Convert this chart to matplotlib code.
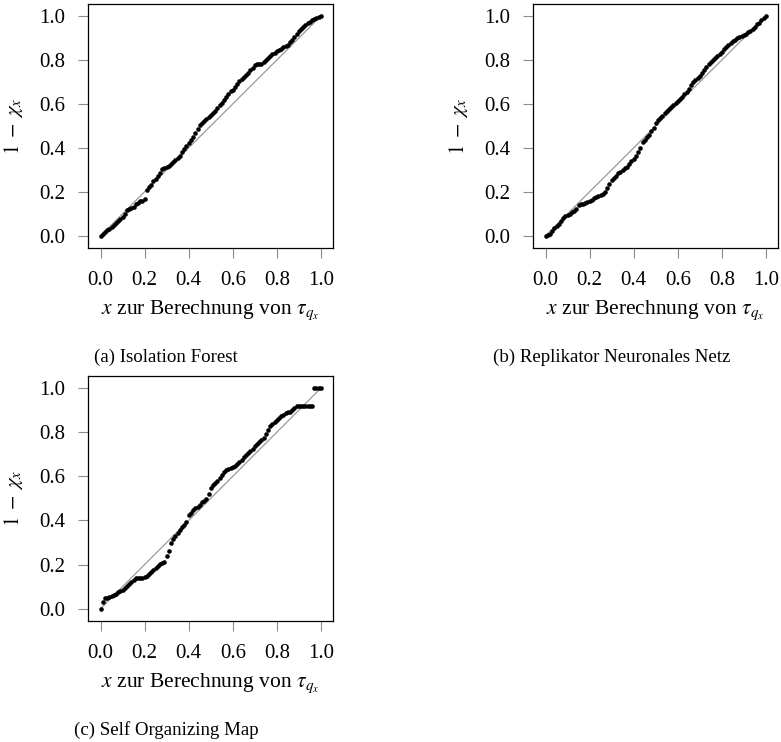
import numpy as np
import matplotlib
matplotlib.use("Agg")
import matplotlib.pyplot as plt

plt.rcParams["font.family"] = ["Liberation Serif", "DejaVu Serif"]
plt.rcParams["mathtext.fontset"] = "stix"

# quantile levels x used to compute tau_{q_x}
x_levels = np.round(np.arange(0, 101) * 0.01, 2)

# 1 - chi_x for each detector
y_isolation_forest = [
    0.000, 0.010, 0.018, 0.024, 0.032, 0.040, 0.050, 0.058, 0.066, 0.074,
    0.085, 0.100, 0.116, 0.120, 0.124, 0.130, 0.143, 0.150, 0.156, 0.160,
    0.167, 0.209, 0.220, 0.233, 0.247, 0.258, 0.272, 0.285, 0.305, 0.308,
    0.311, 0.316, 0.325, 0.336, 0.346, 0.356, 0.364, 0.380, 0.394, 0.410,
    0.420, 0.436, 0.450, 0.467, 0.487, 0.505, 0.512, 0.520, 0.530, 0.540,
    0.550, 0.560, 0.570, 0.583, 0.595, 0.606, 0.618, 0.630, 0.645, 0.657,
    0.665, 0.676, 0.690, 0.705, 0.713, 0.722, 0.733, 0.742, 0.753, 0.765,
    0.775, 0.781, 0.782, 0.780, 0.790, 0.800, 0.808, 0.816, 0.826, 0.833,
    0.840, 0.846, 0.852, 0.858, 0.864, 0.870, 0.880, 0.892, 0.905, 0.918,
    0.930, 0.940, 0.950, 0.960, 0.968, 0.974, 0.980, 0.986, 0.992, 0.997,
    1.000,
]

y_replikator = [
    0.000, 0.004, 0.010, 0.022, 0.035, 0.045, 0.055, 0.068, 0.082, 0.090,
    0.095, 0.100, 0.106, 0.112, 0.122, 0.142, 0.146, 0.146, 0.150, 0.155,
    0.158, 0.163, 0.170, 0.175, 0.180, 0.186, 0.192, 0.198, 0.215, 0.235,
    0.252, 0.262, 0.273, 0.285, 0.290, 0.298, 0.306, 0.315, 0.327, 0.340,
    0.350, 0.362, 0.380, 0.400, 0.425, 0.438, 0.448, 0.458, 0.475, 0.492,
    0.512, 0.525, 0.536, 0.546, 0.557, 0.567, 0.577, 0.586, 0.595, 0.605,
    0.614, 0.622, 0.632, 0.643, 0.654, 0.668, 0.685, 0.700, 0.708, 0.716,
    0.728, 0.742, 0.756, 0.768, 0.780, 0.790, 0.800, 0.810, 0.820, 0.828,
    0.838, 0.848, 0.858, 0.868, 0.878, 0.886, 0.893, 0.900, 0.906, 0.910,
    0.913, 0.918, 0.926, 0.934, 0.943, 0.952, 0.962, 0.970, 0.980, 0.990,
    1.000,
]

y_som = [
    0.000, 0.028, 0.048, 0.050, 0.053, 0.056, 0.060, 0.068, 0.074, 0.080,
    0.086, 0.092, 0.102, 0.112, 0.122, 0.132, 0.137, 0.140, 0.141, 0.141,
    0.142, 0.148, 0.158, 0.168, 0.176, 0.185, 0.195, 0.204, 0.208, 0.212,
    0.240, 0.260, 0.298, 0.318, 0.330, 0.342, 0.355, 0.368, 0.380, 0.395,
    0.425, 0.436, 0.448, 0.455, 0.463, 0.472, 0.482, 0.490, 0.496, 0.520,
    0.545, 0.562, 0.572, 0.580, 0.592, 0.606, 0.620, 0.627, 0.632, 0.637,
    0.644, 0.648, 0.656, 0.666, 0.676, 0.686, 0.696, 0.706, 0.716, 0.726,
    0.736, 0.746, 0.756, 0.765, 0.775, 0.792, 0.810, 0.826, 0.838, 0.848,
    0.856, 0.864, 0.872, 0.880, 0.886, 0.890, 0.894, 0.900, 0.910, 0.918,
    0.920, 0.920, 0.920, 0.920, 0.920, 0.920, 0.920, 1.000, 1.000, 1.000,
    1.000,
]

ticks = [0.0, 0.2, 0.4, 0.6, 0.8, 1.0]
tick_labels = ["0.0", "0.2", "0.4", "0.6", "0.8", "1.0"]
captions = ["(a) Isolation Forest", "(b) Replikator Neuronales Netz",
            "(c) Self Organizing Map"]
series = [y_isolation_forest, y_replikator, y_som]

W, H = 781, 742
fig = plt.figure(figsize=(W / 100, H / 100), dpi=100)

# axes boxes in pixels: (left, top, width, height)
boxes = [(88, 4, 245, 244), (533, 4, 245, 244), (88, 376, 245, 245)]
caption_pos = [(166, 357), (612, 357), (166, 730)]


def px_rect(l, t, w, h):
    return [l / W, 1 - (t + h) / H, w / W, h / H]


for (l, t, w, h), y, cap, (cx, cy) in zip(boxes, series, captions, caption_pos):
    ax = fig.add_axes(px_rect(l, t, w, h))
    ax.plot([0, 1], [0, 1], color="#9a9a9a", lw=0.9, zorder=1)
    ax.plot(x_levels, y, "o", color="black", ms=3.3, mew=0, zorder=2)
    ax.set_xlim(-0.057, 1.055)
    ax.set_ylim(-0.056, 1.055)
    ax.set_xticks(ticks)
    ax.set_xticklabels(tick_labels)
    ax.set_yticks(ticks)
    ax.set_yticklabels(tick_labels)
    ax.tick_params(direction="out", length=7.5, width=0.8, color="#8c8c8c",
                   labelsize=15, pad=9)
    for sp in ax.spines.values():
        sp.set_linewidth(0.9)
        sp.set_color("black")
    ax.set_xlabel(r"$x$ zur Berechnung von $\tau_{q_x}$", fontsize=15.5,
                  labelpad=6)
    ax.set_ylabel(r"$1\;-\;\chi_x$", fontsize=15, labelpad=10)
    fig.text(cx / W, 1 - cy / H, cap, ha="center", va="center", fontsize=13.6)

fig.savefig("out.png", dpi=100)
